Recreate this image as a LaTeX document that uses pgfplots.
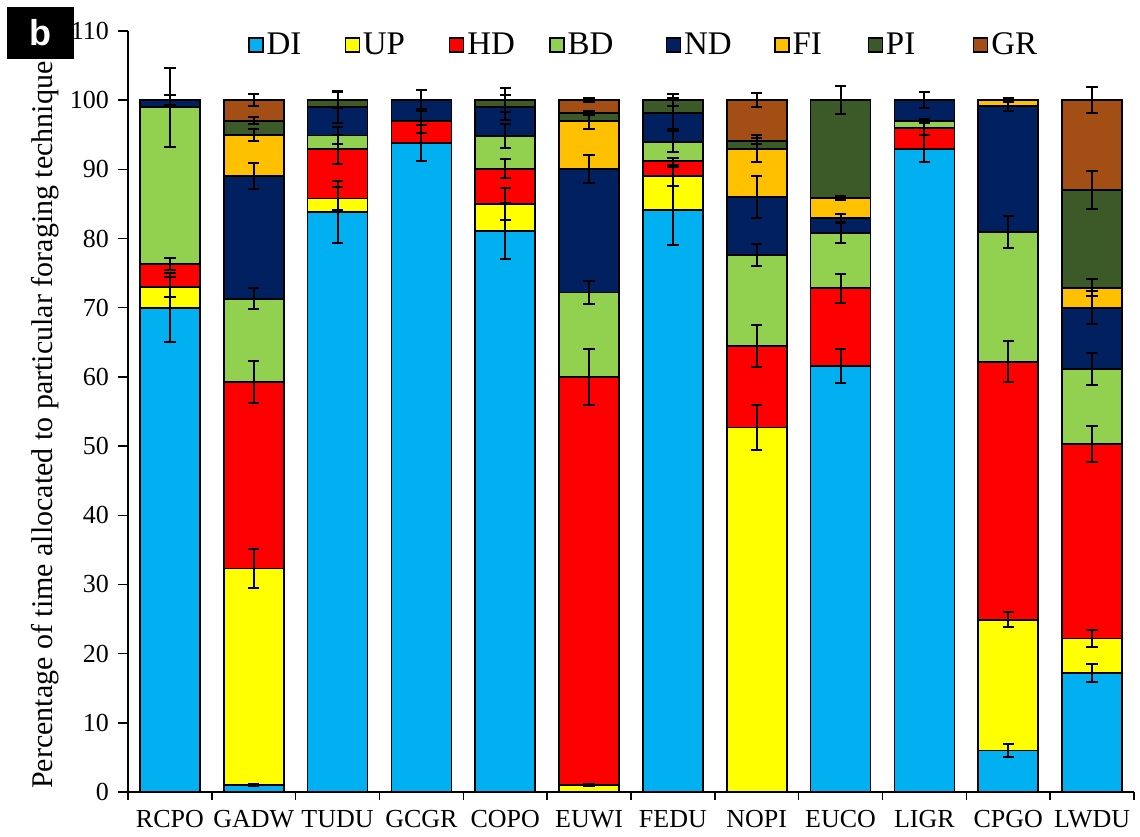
\documentclass[border=0pt]{standalone}
\usepackage{fontspec}
\setmainfont{Liberation Serif}
\newfontfamily\sansf{Liberation Sans}
\usepackage{pgfplots}
\usepackage{pgfplotstable}
\pgfplotsset{compat=1.18}

\definecolor{cDI}{RGB}{0,176,240}
\definecolor{cUP}{RGB}{255,255,0}
\definecolor{cHD}{RGB}{255,0,0}
\definecolor{cBD}{RGB}{146,208,80}
\definecolor{cND}{RGB}{0,32,96}
\definecolor{cFI}{RGB}{255,192,0}
\definecolor{cPI}{RGB}{60,90,40}
\definecolor{cGR}{RGB}{163,78,20}

\pgfplotstableread{
x DI UP HD BD ND FI PI GR
0 70 3 3.3 22.7 1 0 0 0
1 1 31.3 27 12 17.7 6 2 3
2 83.8 2 7.1 2 4.1 0 1 0
3 93.8 0 3.2 0 3 0 0 0
4 81.1 3.9 5.1 4.7 4.2 0 1 0
5 0 1 59 12.2 17.9 6.9 1.1 1.9
6 84.1 4.9 2.2 2.8 4.1 0 1.9 0
7 0 52.7 11.8 13.1 8.4 7 1.1 5.9
8 61.6 0 11.2 8 2.2 2.9 14.1 0
9 93 0 3 1 3 0 0 0
10 6 18.9 37.3 18.7 18.3 0.8 0 0
11 17.2 5 28.1 10.8 8.9 2.9 14.1 13
}\shares

\pgfplotstableread{
x top err
0 70 5
0 73 1.5
0 76.3 0.9
0 99 5.7
0 100 0.7
1 1 0.2
1 32.3 2.8
1 59.3 3
1 71.3 1.5
1 89 1.9
1 95 0.9
1 97 0.5
1 100 0.9
2 83.8 4.5
2 85.8 1.7
2 92.9 2.1
2 94.9 1.2
2 99 2.3
2 100 1.2
3 93.8 2.6
3 97 1.7
3 100 1.5
4 81.1 4.1
4 85 2.3
4 90.1 1.4
4 94.8 1.7
4 99 1.8
4 100 1.7
5 1 0.2
5 60 4
5 72.2 1.6
5 90.1 2
5 97 1.1
5 98.1 0.3
5 100 0.3
6 84.1 5
6 89 1.4
6 91.2 0.5
6 94 1.5
6 98.1 2.2
6 100 0.9
7 52.7 3.2
7 64.5 3
7 77.6 1.6
7 86 3.1
7 93 2
7 94.1 0.5
7 100 1
8 61.6 2.5
8 72.8 2.1
8 80.8 1.4
8 83 0.6
8 85.9 0.3
8 100 2
9 93 1.9
9 96 1.1
9 97 0.3
9 100 1.2
10 6 1
10 24.9 1.1
10 62.2 3
10 80.9 2.3
10 99.2 0.8
10 100 0.3
11 17.2 1.3
11 22.2 1.2
11 50.3 2.6
11 61.1 2.3
11 70 2.4
11 72.9 1.2
11 87 2.8
11 100 1.9
}\errs

\pgfplotsset{
  mybar/.style={fill=#1, draw=black, line width=0.9pt,
    legend image code/.code={\draw[fill=#1, draw=black, line width=0.7pt] (0pt,-3.5pt) rectangle (7pt,3.5pt);}},
  commonaxis/.style={
    width=503pt, height=380.5pt, scale only axis,
    xmin=-0.5, xmax=11.5, ymin=0, ymax=110,
  }
}

\begin{document}
\begin{tikzpicture}
\useasboundingbox (-64pt,-22pt) rectangle (506pt,396pt);
\begin{axis}[
  commonaxis,
  ybar stacked, bar width=30pt,
  axis x line*=bottom, axis y line*=left,
  axis line style={line width=0.8pt},
  xtick={0,...,11},
  xticklabels={RCPO,GADW,TUDU,GCGR,COPO,EUWI,FEDU,NOPI,EUCO,LIGR,CPGO,LWDU},
  major x tick style={draw=none},
  minor xtick={-0.5,0.5,...,11.5},
  minor tick length=4pt,
  xtick align=outside,
  ytick={0,10,...,110},
  ytick align=outside,
  major tick length=5pt,
  tick style={line width=0.7pt, black},
  tick label style={font=\fontsize{13}{15}\selectfont},
  /pgf/number format/assume math mode=true,
  yticklabel style={xshift=-1pt},
  xticklabel style={yshift=-0.5pt},
  ylabel={Percentage of time allocated to particular foraging technique},
  ylabel style={at={(axis description cs:-0.0825,0.482)}, anchor=center, font=\fontsize{15}{17}\selectfont},
  legend style={at={(0.119,0.9816)}, anchor=west, draw=none, fill=none, inner sep=0pt,
    legend columns=8, font=\fontsize{16.5}{18}\selectfont,
    cells={inner xsep=0pt},
    /tikz/every odd column/.append style={column sep=-0.5pt},
    /tikz/every even column/.append style={column sep=0pt}},
]
\addplot[mybar=cDI] table[x=x,y=DI]{\shares}; \addlegendentry{\makebox[37pt][l]{DI}}
\addplot[mybar=cUP] table[x=x,y=UP]{\shares}; \addlegendentry{\makebox[41pt][l]{UP}}
\addplot[mybar=cHD] table[x=x,y=HD]{\shares}; \addlegendentry{\makebox[39pt][l]{HD}}
\addplot[mybar=cBD] table[x=x,y=BD]{\shares}; \addlegendentry{\makebox[47pt][l]{BD}}
\addplot[mybar=cND] table[x=x,y=ND]{\shares}; \addlegendentry{\makebox[43pt][l]{ND}}
\addplot[mybar=cFI] table[x=x,y=FI]{\shares}; \addlegendentry{\makebox[35.5pt][l]{FI}}
\addplot[mybar=cPI] table[x=x,y=PI]{\shares}; \addlegendentry{\makebox[41.5pt][l]{PI}}
\addplot[mybar=cGR] table[x=x,y=GR]{\shares}; \addlegendentry{\makebox[20pt][l]{GR}}
\end{axis}
\begin{axis}[commonaxis, hide axis]
\addplot[draw=none, mark=none,
  error bars/.cd, y dir=both, y explicit,
  error bar style={draw=black, line width=1pt},
  error mark options={draw=black, rotate=90, mark size=2.8pt, line width=1pt}]
  table[x=x, y=top, y error=err]{\errs};
\end{axis}
\node[fill=black, text=white, minimum width=33.5pt, minimum height=26pt, inner sep=0pt,
  font=\sansf\bfseries\fontsize{18}{18}\selectfont] at (-43.75pt,379.5pt) {b};
\end{tikzpicture}
\end{document}
